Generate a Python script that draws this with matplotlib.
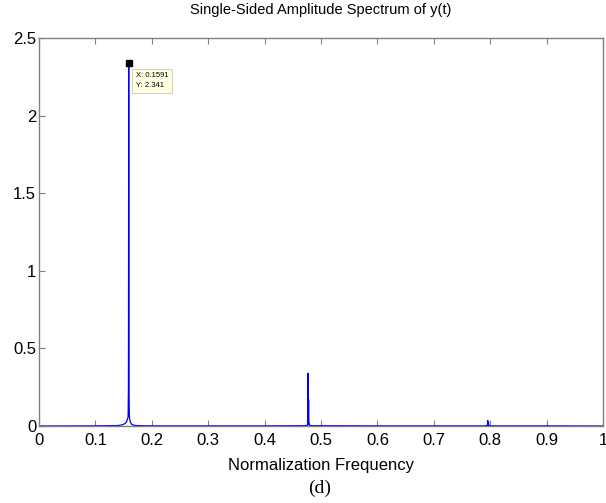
import matplotlib
matplotlib.use("Agg")
import matplotlib.pyplot as plt

# spectrum samples (normalized frequency, amplitude)
freq = [0.0, 0.10, 0.140, 0.148, 0.152, 0.155, 0.156, 0.157, 0.158,
        0.1586, 0.1591, 0.1596, 0.1602, 0.161, 0.162, 0.164, 0.167, 0.172,
        0.18, 0.20, 0.30, 0.40, 0.470, 0.4762, 0.4768, 0.4774, 0.4780,
        0.4786, 0.4792, 0.4798, 0.485, 0.60, 0.79, 0.7950, 0.7956, 0.7962,
        0.7968, 0.7974, 0.80, 0.90, 1.0]
amp = [0.0, 0.001, 0.003, 0.008, 0.015, 0.025, 0.035, 0.045, 0.06,
       0.25, 2.341, 0.25, 0.06, 0.04, 0.025, 0.012, 0.006, 0.003,
       0.002, 0.001, 0.001, 0.001, 0.002, 0.004, 0.34, 0.01, 0.17,
       0.01, 0.015, 0.004, 0.002, 0.001, 0.001, 0.003, 0.035, 0.004,
       0.025, 0.003, 0.001, 0.001, 0.0]

tip_x = 0.1591
tip_y = 2.341
xticks = [0, 0.1, 0.2, 0.3, 0.4, 0.5, 0.6, 0.7, 0.8, 0.9, 1]
xtick_labels = ["0", "0.1", "0.2", "0.3", "0.4", "0.5", "0.6", "0.7", "0.8", "0.9", "1"]
yticks = [0, 0.5, 1, 1.5, 2, 2.5]
ytick_labels = ["0", "0.5", "1", "1.5", "2", "2.5"]

plt.rcParams["font.family"] = ["Liberation Sans", "DejaVu Sans"]

fig = plt.figure(figsize=(6.06, 5.03), dpi=100)
ax = fig.add_axes([39 / 606, 77 / 503, 564 / 606, 388 / 503])

ax.plot(freq, amp, color="#0000ff", lw=0.9)
ax.set_xlim(0, 1)
ax.set_ylim(0, 2.5)
ax.set_xticks(xticks)
ax.set_xticklabels(xtick_labels)
ax.set_yticks(yticks)
ax.set_yticklabels(ytick_labels)
ax.tick_params(direction="in", length=4, color="#808080", labelsize=12,
               top=True, right=False)
ax.tick_params(axis="x", pad=5)
ax.tick_params(axis="y", pad=2)
for s in ax.spines.values():
    s.set_color("#808080")
    s.set_linewidth(1.0)

ax.set_title("Single-Sided Amplitude Spectrum of y(t)", fontsize=10.5, pad=17)
ax.set_xlabel("Normalization Frequency", fontsize=12, labelpad=7)

# data tip at the main peak
ax.plot([tip_x], [tip_y], marker="s", color="black", ms=5)
ax.annotate("X: 0.1591\nY: 2.341", xy=(tip_x, tip_y), xytext=(5, -7),
            textcoords="offset points", fontsize=5.5, va="top", ha="left",
            linespacing=1.6,
            bbox=dict(boxstyle="square,pad=0.45", fc="#ffffe1", ec="#c8c8b4", lw=0.6))

fig.text(320 / 606, 1 - 488 / 503, "(d)", fontsize=14, ha="center", va="center",
         family=["Liberation Serif", "DejaVu Serif"])

fig.savefig("out.png", dpi=100)
